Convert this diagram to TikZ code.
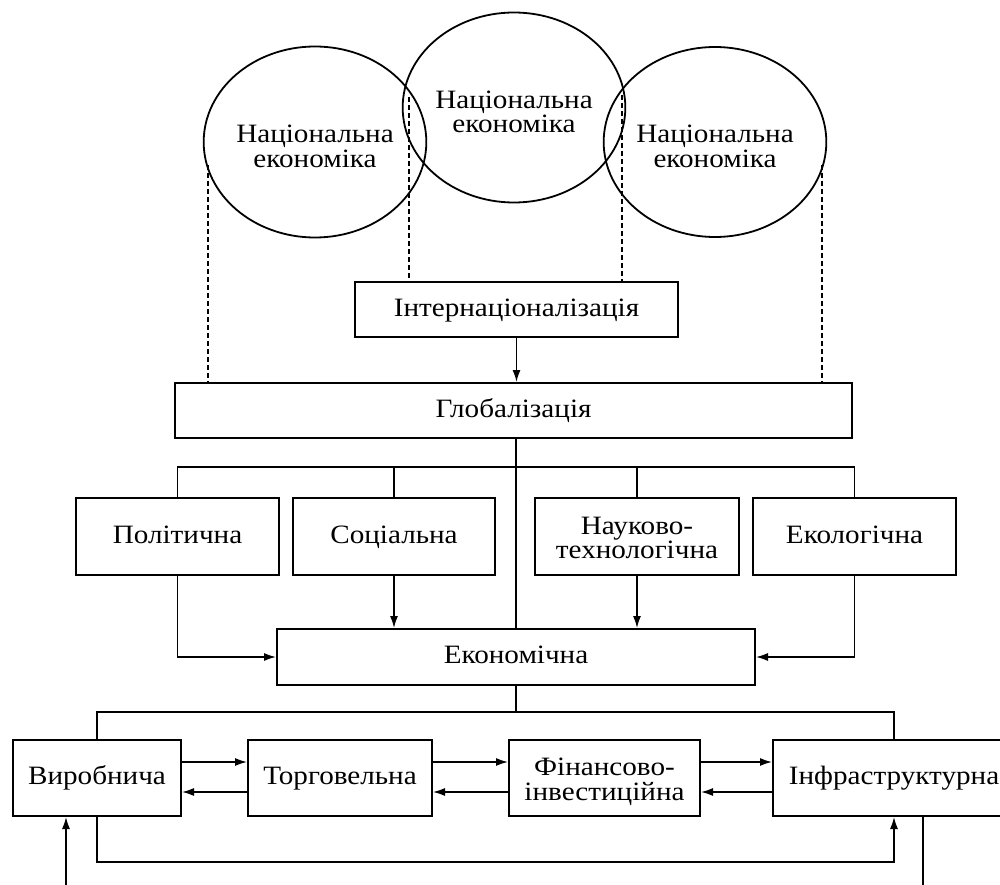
\documentclass[tikz,border=0pt]{standalone}
\usepackage{fontspec}
\setmainfont{Liberation Serif}[FakeStretch=1.1]
\usetikzlibrary{arrows.meta,shapes.geometric}
\tikzset{
  box/.style={draw, line width=2pt, inner sep=0pt, align=center, font=\fontsize{26.5}{24.5}\selectfont},
  one/.style={text height=18pt, text depth=5pt},
  ell/.style={draw, ellipse, line width=1.8pt, inner sep=0pt, align=center, font=\fontsize{26.5}{24.5}\selectfont},
  conn/.style={line width=1.5pt},
  arr/.style={line width=1.5pt, -{Latex[length=12pt,width=8pt]}},
  dashline/.style={line width=1.7pt, dash pattern=on 5pt off 3pt}
}
\newcommand{\topstrut}[1]{\rule{0pt}{#1}}
\begin{document}
\begin{tikzpicture}[x=1pt,y=-1pt]
\useasboundingbox (0,0) rectangle (1000,885);
\clip (0,0) rectangle (1000,885);
% national economies
\node[ell, minimum width=214pt, minimum height=191pt] (L) at (315,142) {\topstrut{26.5pt}Національна\\економіка};
\node[ell, minimum width=212pt, minimum height=190pt] (M) at (514,107.5) {\topstrut{26.5pt}Національна\\економіка};
\node[ell, minimum width=215pt, minimum height=190pt] (R) at (715,142) {\topstrut{26.5pt}Національна\\економіка};
% boxes
\node[box, one, minimum width=323pt, minimum height=55pt] (intern) at (516.5,309.5) {Інтернаціоналізація};
\node[box, one, minimum width=677pt, minimum height=55pt] (glob) at (513.5,410.5) {Глобалізація};
\node[box, one, minimum width=203pt, minimum height=77pt] (pol) at (177.5,536.5) {Політична};
\node[box, one, minimum width=202pt, minimum height=77pt] (soc) at (394,536.5) {Соціальна};
\node[box, minimum width=204pt, minimum height=77pt] (nauk) at (637,536.5) {\topstrut{20.5pt}Науково-\\технологічна};
\node[box, one, minimum width=203pt, minimum height=77pt] (eko) at (854.5,536.5) {Екологічна};
\node[box, one, minimum width=478pt, minimum height=56pt] (econ) at (516,657) {Економічна};
\node[box, one, minimum width=168pt, minimum height=76pt] (vyr) at (97,778) {Виробнича};
\node[box, one, minimum width=184pt, minimum height=76pt] (torg) at (340,778) {Торговельна};
\node[box, minimum width=191pt, minimum height=76pt] (fin) at (604.5,778) {\topstrut{25.5pt}Фінансово-\\інвестиційна};
\node[box, one, minimum width=242pt, minimum height=76pt] (infra) at (894,778) {Інфраструктурна};
% dashed links
\coordinate (dL) at (208,165);
\coordinate (dML) at (409,97);
\coordinate (dMR) at (622,95);
\coordinate (dR) at (822,165);
\draw[dashline] (dL) -- (dL |- glob.north);
\draw[dashline] (dML) -- (dML |- intern.north);
\draw[dashline] (dMR) -- (dMR |- intern.north);
\draw[dashline] (dR) -- (dR |- glob.north);
% internationalisation -> globalisation
\draw[arr] (intern.south) -- (intern.south |- glob.north);
% globalisation -> branches
\coordinate (barA) at (516,467);
\draw[conn] (econ.north |- glob.south) -- (econ.north);
\draw[conn] (pol.north) -- (pol.north |- barA) -- (eko.north |- barA) -- (eko.north);
\draw[conn] (soc.north) -- (soc.north |- barA);
\draw[conn] (nauk.north) -- (nauk.north |- barA);
% branches -> economic
\draw[arr] (pol.south) |- (econ.west);
\draw[arr] (soc.south) -- (soc.south |- econ.north);
\draw[arr] (nauk.south) -- (nauk.south |- econ.north);
\draw[arr] (eko.south) |- (econ.east);
% economic -> sectors
\coordinate (barB) at (516,712);
\draw[conn] (econ.south) -- (barB);
\draw[conn] (vyr.north) |- (barB) -| (infra.north);
% sector exchanges
\draw[arr] ([yshift=16pt]vyr.east) -- ([yshift=16pt]torg.west);
\draw[arr] ([yshift=-14pt]torg.west) -- ([yshift=-14pt]vyr.east);
\draw[arr] ([yshift=16pt]torg.east) -- ([yshift=16pt]fin.west);
\draw[arr] ([yshift=-14pt]fin.west) -- ([yshift=-14pt]torg.east);
\draw[arr] ([yshift=16pt]fin.east) -- ([yshift=16pt]infra.west);
\draw[arr] ([yshift=-14pt]infra.west) -- ([yshift=-14pt]fin.east);
% bottom loop
\coordinate (loopY) at (0,862);
\draw[arr] (vyr.south) -- (vyr.south |- loopY) -| (infra.south);
\coordinate (inA) at (66,892);
\draw[arr] (inA) -- (inA |- vyr.south);
\coordinate (outA) at (923,892);
\draw[conn] (outA |- infra.south) -- (outA);
\end{tikzpicture}
\end{document}
